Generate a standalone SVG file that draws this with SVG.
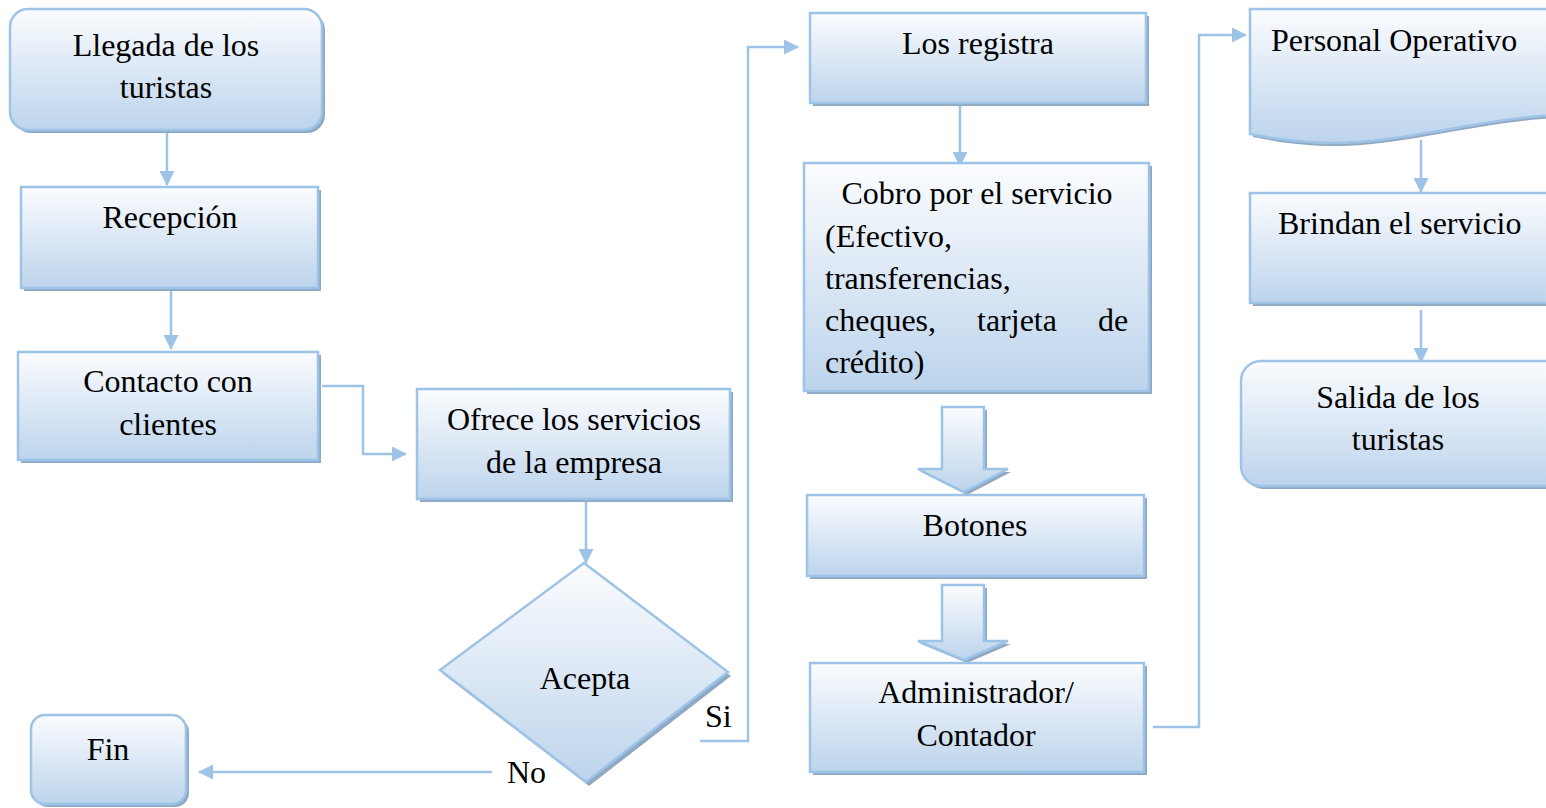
<svg xmlns="http://www.w3.org/2000/svg" width="1546" height="808" viewBox="0 0 1546 808">
<defs>
<linearGradient id="g" x1="0" y1="0" x2="0" y2="1">
<stop offset="0" stop-color="#fbfcfe"/>
<stop offset="0.55" stop-color="#d9e6f4"/>
<stop offset="1" stop-color="#bcd4ec"/>
</linearGradient>
<marker id="ah" markerWidth="15" markerHeight="15" refX="14" refY="7.5" orient="auto" markerUnits="userSpaceOnUse" viewBox="0 0 15 15">
<path d="M0,0 L15,7.5 L0,15 z" fill="#9dc3e6"/>
</marker>
<style>
.box{fill:url(#g);stroke:#9dc3e6;stroke-width:2.5}
.sh{fill:#8fa9c4}
.t{font-family:"Liberation Serif","Times New Roman","DejaVu Serif",serif;font-size:32px;fill:#000}
.c{text-anchor:middle}
.ln{fill:none;stroke:#9dc3e6;stroke-width:2.5}
</style>
</defs>
<rect width="1546" height="808" fill="#fff"/>

<g id="connectors">
<line class="ln" x1="167" y1="132" x2="167" y2="185" marker-end="url(#ah)"/>
<line class="ln" x1="171" y1="290" x2="171" y2="349" marker-end="url(#ah)"/>
<polyline class="ln" points="322,386 363,386 363,454 406,454" marker-end="url(#ah)"/>
<line class="ln" x1="586" y1="501" x2="586" y2="563" marker-end="url(#ah)"/>
<polyline class="ln" points="700,741 748,741 748,47 798,47" marker-end="url(#ah)"/>
<line class="ln" x1="492" y1="772" x2="199" y2="772" marker-end="url(#ah)"/>
<line class="ln" x1="960" y1="105" x2="960" y2="166" marker-end="url(#ah)"/>
<polyline class="ln" points="1153,727 1199,727 1199,35 1246,35" marker-end="url(#ah)"/>
<line class="ln" x1="1421" y1="140" x2="1421" y2="192" marker-end="url(#ah)"/>
<line class="ln" x1="1421" y1="310" x2="1421" y2="362" marker-end="url(#ah)"/>
<text class="t" x="705" y="727">Si</text>
<text class="t" x="507" y="783">No</text>
</g>

<g id="llegada">
<rect class="sh" x="13" y="12" width="312" height="121" rx="18"/>
<rect class="box" x="10" y="9" width="312" height="121" rx="18"/>
<text class="t c" x="166" y="56">Llegada de los</text>
<text class="t c" x="166" y="98">turistas</text>
</g>

<g id="recepcion">
<rect class="sh" x="24" y="190" width="297" height="101"/>
<rect class="box" x="21" y="187" width="297" height="101"/>
<text class="t c" x="170" y="228">Recepción</text>
</g>

<g id="contacto">
<rect class="sh" x="21" y="355" width="300" height="108"/>
<rect class="box" x="18" y="352" width="300" height="108"/>
<text class="t c" x="168" y="392">Contacto con</text>
<text class="t c" x="168" y="435">clientes</text>
</g>

<g id="ofrece">
<rect class="sh" x="420" y="392" width="313" height="110"/>
<rect class="box" x="417" y="389" width="313" height="110"/>
<text class="t c" x="574" y="430">Ofrece los servicios</text>
<text class="t c" x="574" y="473">de la empresa</text>
</g>

<g id="acepta">
<polygon class="sh" points="587,567 731,676 589,786 443,674"/>
<polygon class="box" points="584,563 728,672 586,782 440,670"/>
<text class="t c" x="585" y="689">Acepta</text>
</g>

<g id="fin">
<rect class="sh" x="34" y="718" width="155" height="89" rx="14"/>
<rect class="box" x="31" y="715" width="155" height="89" rx="14"/>
<text class="t c" x="108" y="760">Fin</text>
</g>

<g id="registra">
<rect class="sh" x="813" y="16" width="336" height="90"/>
<rect class="box" x="810" y="13" width="336" height="90"/>
<text class="t c" x="978" y="54">Los registra</text>
</g>

<g id="cobro">
<rect class="sh" x="807" y="166" width="345" height="228"/>
<rect class="box" x="804" y="163" width="345" height="228"/>
<text class="t c" x="977" y="204">Cobro por el servicio</text>
<text class="t" x="825" y="247">(Efectivo,</text>
<text class="t" x="825" y="289">transferencias,</text>
<text class="t" x="825" y="331">cheques,</text>
<text class="t" x="977" y="331">tarjeta</text>
<text class="t" x="1098" y="331">de</text>
<text class="t" x="825" y="373">crédito)</text>
</g>

<g id="flecha1">
<polygon class="sh" points="945,410 987,410 987,472 1011,472 967,495 921,472 945,472"/>
<polygon class="box" points="942,407 984,407 984,469 1008,469 964,492 918,469 942,469"/>
</g>

<g id="botones">
<rect class="sh" x="810" y="498" width="337" height="81"/>
<rect class="box" x="807" y="495" width="337" height="81"/>
<text class="t c" x="975" y="536">Botones</text>
</g>

<g id="flecha2">
<polygon class="sh" points="945,588 987,588 987,644 1011,644 967,663 921,644 945,644"/>
<polygon class="box" points="942,585 984,585 984,641 1008,641 964,660 918,641 942,641"/>
</g>

<g id="administrador">
<rect class="sh" x="813" y="666" width="334" height="109"/>
<rect class="box" x="810" y="663" width="334" height="109"/>
<text class="t c" x="976" y="703">Administrador/</text>
<text class="t c" x="976" y="746">Contador</text>
</g>

<g id="personal">
<path class="sh" d="M1253,12 L1570,12 L1570,118 C1490,118 1400,148 1330,146 C1290,145 1270,140 1253,137 Z"/>
<path class="box" d="M1250,9 L1570,9 L1570,115 C1490,115 1400,145 1327,143 C1287,142 1267,137 1250,134 Z"/>
<text class="t" x="1271" y="51">Personal Operativo</text>
</g>

<g id="brindan">
<rect class="sh" x="1253" y="196" width="320" height="110"/>
<rect class="box" x="1250" y="193" width="320" height="110"/>
<text class="t" x="1278" y="234">Brindan el servicio</text>
</g>

<g id="salida">
<rect class="sh" x="1244" y="364" width="330" height="125" rx="20"/>
<rect class="box" x="1241" y="361" width="330" height="125" rx="20"/>
<text class="t c" x="1398" y="408">Salida de los</text>
<text class="t c" x="1398" y="450">turistas</text>
</g>
</svg>
